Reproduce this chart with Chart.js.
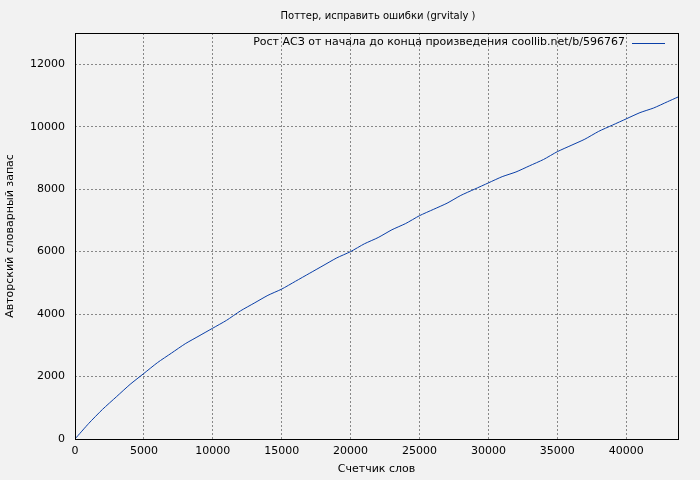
<!DOCTYPE html><html><head><meta charset="utf-8">
<script src="https://cdn.jsdelivr.net/npm/chart.js@4"></script>
<style>html,body{margin:0;background:#f2f2f2}</style></head><body>
<canvas id="c" width="700" height="480" style="width:700px;height:480px"></canvas>
<script>
const words=[0,1000,2000,3000,4000,5000,6000,7000,8000,9000,10000,11000,12000,13000,14000,15000,16000,17000,18000,19000,20000,21000,22000,23000,24000,25000,26000,27000,28000,29000,30000,31000,32000,33000,34000,35000,36000,37000,38000,39000,40000,41000,42000,43000,43760];
const vocab=[0,500,950,1350,1750,2100,2450,2750,3050,3300,3550,3800,4100,4350,4600,4800,5050,5300,5550,5800,6000,6250,6450,6700,6900,7150,7350,7550,7800,8000,8200,8400,8550,8750,8950,9200,9400,9600,9850,10050,10250,10450,10600,10800,10950];
const xTicks=[0,5000,10000,15000,20000,25000,30000,35000,40000];
const yTicks=[0,2000,4000,6000,8000,10000,12000];
const title='Поттер, исправить ошибки (grvitaly )';
const legendLabel='Рост АСЗ от начала до конца произведения coollib.net/b/596767';
const F='"DejaVu Sans",sans-serif';
const deco={id:'deco',beforeDraw(c){const x=c.ctx;x.save();x.fillStyle='#f2f2f2';x.fillRect(0,0,700,480);x.restore();},
afterDraw(c){const x=c.ctx,a=c.chartArea;x.save();x.strokeStyle='#000';x.lineWidth=1;x.strokeRect(a.left+.5,a.top+.5,a.right-a.left,a.bottom-a.top);
x.fillStyle='#000';x.font='10px '+F;x.textAlign='center';x.textBaseline='middle';x.fillText(title,378,16);
x.font='11px '+F;x.textAlign='right';x.fillText(legendLabel,625,42);x.strokeStyle='#0a3fa8';x.beginPath();x.moveTo(632,43.5);x.lineTo(665,43.5);x.stroke();x.restore();}};
const tk={color:'#000',font:{size:11,family:F},autoSkip:false,maxRotation:0,callback:v=>String(v)};
const gr={color:'#888',lineWidth:1,drawTicks:false};
new Chart(document.getElementById('c'),{type:'line',data:{datasets:[{data:words.map((w,i)=>({x:w,y:vocab[i]})),borderColor:'#0a3fa8',borderWidth:1,pointRadius:0,tension:0.2}]},
options:{responsive:false,animation:false,layout:{padding:{top:33,right:22,left:0,bottom:0}},plugins:{legend:{display:false},tooltip:{enabled:false}},
scales:{x:{type:'linear',min:0,max:43760,afterFit(s){s.height=41},afterBuildTicks(s){s.ticks=xTicks.map(v=>({value:v}))},ticks:{...tk,padding:6},grid:gr,border:{display:false,dash:[2,2]},title:{display:true,text:'Счетчик слов',color:'#000',font:{size:11,family:F},padding:{top:2}}},
y:{min:0,max:13000,afterFit(s){s.width=75},afterBuildTicks(s){s.ticks=yTicks.map(v=>({value:v}))},ticks:{...tk,padding:10},grid:gr,border:{display:false,dash:[2,2]},title:{display:true,text:'Авторский словарный запас',color:'#000',font:{size:11,family:F}}}}},plugins:[deco]});
</script></body></html>
